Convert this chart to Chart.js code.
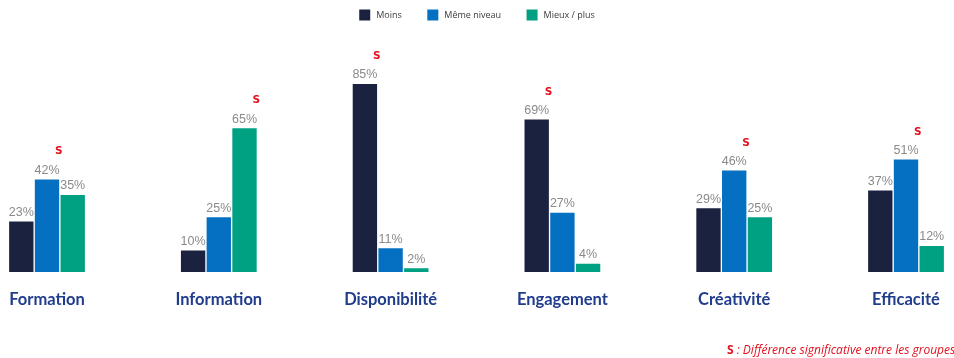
<!DOCTYPE html>
<html>
<head>
<meta charset="utf-8">
<script src="https://cdn.jsdelivr.net/npm/chart.js@4/dist/chart.umd.min.js"></script>
<style>
  html, body { margin: 0; padding: 0; background: #ffffff; }
  #wrap { position: relative; width: 954px; height: 358px; overflow: hidden; }
  canvas { display: block; }
</style>
</head>
<body>
<div id="wrap"><canvas id="c" width="954" height="358"></canvas></div>
<script>
// ---- Data ----
const categories = ['Formation', 'Information', 'Disponibilité', 'Engagement', 'Créativité', 'Efficacité'];
const seriesNames = ['Moins', 'Même niveau', 'Mieux / plus'];
const moins = [23, 10, 85, 69, 29, 37];
const memeNiveau = [42, 25, 11, 27, 46, 51];
const mieuxPlus = [35, 65, 2, 4, 25, 12];
// index of the series that carries the "S" (significant difference) marker, per category
const significantSeries = [1, 2, 0, 0, 1, 1];
const sigMarker = 'S';
const footnoteBold = 'S';
const footnoteText = ' : Différence significative entre les groupes';

// ---- Styles ----
const seriesColors = ['#1b2240', '#0570c1', '#00a083'];
const labelFontFamily = "'Liberation Sans', Arial, sans-serif";

const valueLabelPlugin = {
  id: 'valueLabels',
  afterDatasetsDraw(chart) {
    const ctx = chart.ctx;
    ctx.save();
    ctx.font = '12.5px ' + labelFontFamily;
    ctx.fillStyle = '#8a8a8a';
    ctx.textAlign = 'center';
    ctx.textBaseline = 'alphabetic';
    chart.data.datasets.forEach((ds, di) => {
      const meta = chart.getDatasetMeta(di);
      meta.data.forEach((bar, i) => {
        ctx.fillText(ds.data[i] + '%', bar.x, bar.y - 5);
      });
    });
    // significance markers
    ctx.font = 'bold 10.5px "DejaVu Sans", sans-serif';
    ctx.fillStyle = '#e3101e';
    ctx.textBaseline = 'middle';
    significantSeries.forEach((si, i) => {
      if (si === null || si === undefined) return;
      const bar = chart.getDatasetMeta(si).data[i];
      ctx.fillText(sigMarker, bar.x + bar.width / 2 - 1, bar.y - 27);
    });
    ctx.restore();
  }
};

const legendPlugin = {
  id: 'customLegend',
  afterDraw(chart) {
    const ctx = chart.ctx;
    ctx.save();
    ctx.font = '9px "Open Sans", sans-serif';
    const box = 11, gapText = 6, gapItem = 25.5;
    const items = chart.data.datasets.map(ds => ({
      text: ds.label, color: ds.backgroundColor,
      w: box + gapText + ctx.measureText(ds.label).width
    }));
    const total = items.reduce((s, it) => s + it.w, 0) + gapItem * (items.length - 1);
    let x = chart.width / 2 - total / 2;
    const cy = 15;
    items.forEach(it => {
      ctx.fillStyle = it.color;
      ctx.fillRect(x, cy - box / 2, box, box);
      ctx.fillStyle = '#3a3a3a';
      ctx.textAlign = 'left';
      ctx.textBaseline = 'middle';
      ctx.fillText(it.text, x + box + gapText, cy);
      x += it.w + gapItem;
    });
    ctx.restore();
  }
};

const footnotePlugin = {
  id: 'footnote',
  afterDraw(chart) {
    const ctx = chart.ctx;
    ctx.save();
    ctx.fillStyle = '#e3101e';
    ctx.textAlign = 'left';
    ctx.textBaseline = 'alphabetic';
    const x0 = chart.width - 227, y0 = 354;
    ctx.font = 'bold 12px "Open Sans", sans-serif';
    ctx.fillText(footnoteBold, x0, y0);
    const w = ctx.measureText(footnoteBold).width;
    ctx.font = 'italic 12px "Open Sans", sans-serif';
    ctx.fillText(footnoteText, x0 + w, y0);
    ctx.restore();
  }
};

function build() {
  const seriesData = [moins, memeNiveau, mieuxPlus];
  new Chart(document.getElementById('c'), {
    type: 'bar',
    data: {
      labels: categories,
      datasets: seriesNames.map((name, i) => ({
        label: name,
        data: seriesData[i],
        backgroundColor: seriesColors[i],
        borderColor: 'rgba(255,255,255,0.85)',
        borderWidth: 1,
        barThickness: 25.7,
        clip: false
      }))
    },
    options: {
      responsive: false,
      animation: false,
      events: [],
      layout: { padding: { top: 50, bottom: 31, left: 47, right: 48 } },
      plugins: { legend: { display: false }, tooltip: { enabled: false } },
      scales: {
        x: {
          offset: false,
          grid: { display: false, drawTicks: false },
          border: { display: false },
          ticks: {
            padding: 0,
            color: '#203c8c',
            font: { family: 'Lato, sans-serif', size: 16.5, weight: 'bold', lineHeight: '55px' },
            maxRotation: 0,
            autoSkip: false
          }
        },
        y: {
          display: false,
          min: 0,
          max: 100
        }
      }
    },
    plugins: [valueLabelPlugin, legendPlugin, footnotePlugin]
  });
}

Promise.all([
  document.fonts.load('bold 16px Lato'),
  document.fonts.load('9px "Open Sans"'),
  document.fonts.load('13px "Liberation Sans"'),
  document.fonts.load('italic 12px "Open Sans"'),
  document.fonts.load('bold 12px "Open Sans"')
]).then(build, build);
</script>
</body>
</html>
